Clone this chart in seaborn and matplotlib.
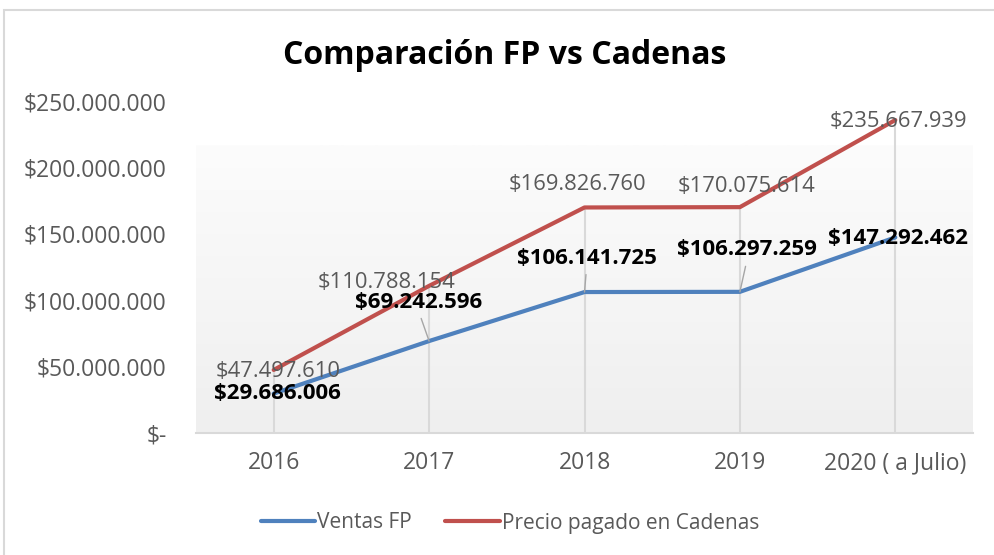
import seaborn as sns
import matplotlib.pyplot as plt
import matplotlib.patches as mpatches
import numpy as np
import pandas as pd

years = ['2016', '2017', '2018', '2019', '2020 ( a Julio)']
ventas_fp = [29686006, 69242596, 106141725, 106297259, 147292462]
precio_cadenas = [47497610, 110788154, 169826760, 170075614, 235667939]
series_names = ['Ventas FP', 'Precio pagado en Cadenas']
colors = ['#4F81BD', '#C0504D']

df = pd.DataFrame({
    'pos': list(range(len(years))) * 2,
    'valor': ventas_fp + precio_cadenas,
    'serie': [series_names[0]] * len(years) + [series_names[1]] * len(years),
})

sns.set_style('white')
plt.rcParams['font.family'] = ['Open Sans', 'DejaVu Sans']

fig = plt.figure(figsize=(9.94, 5.55), dpi=100)
ax = fig.add_axes([196 / 994, 1 - 433 / 555, (973 - 196) / 994, (433 - 101) / 555])

# chart area border
fig.patches.append(mpatches.Rectangle((4 / 994, -0.1), 1.1, 1 - 10 / 555 + 0.1,
                                      transform=fig.transFigure, fill=False,
                                      edgecolor='#D9D9D9', linewidth=1.5))

# plot area gradient
grad = np.linspace(0, 1, 256).reshape(-1, 1)
ax.imshow(grad, cmap=sns.blend_palette(['#EFEFEF', '#FCFCFC'], as_cmap=True),
          aspect='auto', extent=[0, 1, 0, 0.867], transform=ax.transAxes,
          origin='lower', zorder=0)

# drop lines
tops = np.maximum(ventas_fp, precio_cadenas)
ax.vlines(range(len(years)), 0, tops, color='#D9D9D9', linewidth=1.5, zorder=1)

sns.lineplot(data=df, x='pos', y='valor', hue='serie', palette=colors,
             linewidth=3, legend=False, ax=ax, zorder=3)
for line in ax.lines:
    line.set_solid_capstyle('round')

ax.set_xlim(-0.5, len(years) - 0.5)
ax.set_ylim(0, 250000000)
ax.set_xticks(range(len(years)))
ax.set_xticklabels(years)
yt = np.arange(0, 250000001, 50000000)
ax.set_yticks(yt)
ax.set_yticklabels(['$-' if v == 0 else '$' + f'{v:,.0f}'.replace(',', '.') for v in yt])
ax.tick_params(axis='both', length=0, labelsize=16.5, colors='#595959')
ax.tick_params(axis='y', pad=21)
ax.tick_params(axis='x', pad=13)
ax.set_xlabel('')
ax.set_ylabel('')
for s in ['top', 'right', 'left']:
    ax.spines[s].set_visible(False)
ax.spines['bottom'].set_color('#D9D9D9')
ax.spines['bottom'].set_linewidth(1.5)
ax.patch.set_alpha(0)

fmt = lambda v: '$' + f'{v:,.0f}'.replace(',', '.')

# data labels, offsets in pixels
red_off = [(4, -2), (-43, 3), (-7, 23), (7, 21), (3, -1)]
blue_off = [(4, 0), (-10, 39), (2, 34), (7, 42), (3, -1)]
leader = [False, True, True, True, False]

for i, v in enumerate(precio_cadenas):
    ax.annotate(fmt(v), (i, v), xytext=red_off[i], textcoords='offset pixels',
                ha='center', va='center', fontsize=15.8, color='#595959', zorder=4)
for i, v in enumerate(ventas_fp):
    kw = {}
    if leader[i]:
        kw['arrowprops'] = dict(arrowstyle='-', color='#A6A6A6', lw=1,
                                shrinkA=2, shrinkB=0, relpos=(0.5, 0))
    ax.annotate(fmt(v), (i, v), xytext=blue_off[i], textcoords='offset pixels',
                ha='center', va='center', fontsize=16, color='black',
                fontweight='bold', zorder=5, **kw)

fig.text(505 / 994, 1 - 55 / 555, 'Comparación FP vs Cadenas', ha='center',
         va='center', fontsize=23, fontweight='bold', color='black')

handles = [plt.Line2D([], [], color=c, lw=3, solid_capstyle='round') for c in colors]
fig.legend(handles, series_names, loc='center', bbox_to_anchor=(510 / 994, 1 - 523 / 555),
           ncol=2, frameon=False, fontsize=15, labelcolor='#595959',
           handlelength=2.6, handletextpad=0.1, columnspacing=1.6)

fig.savefig('out.png', dpi=100)
